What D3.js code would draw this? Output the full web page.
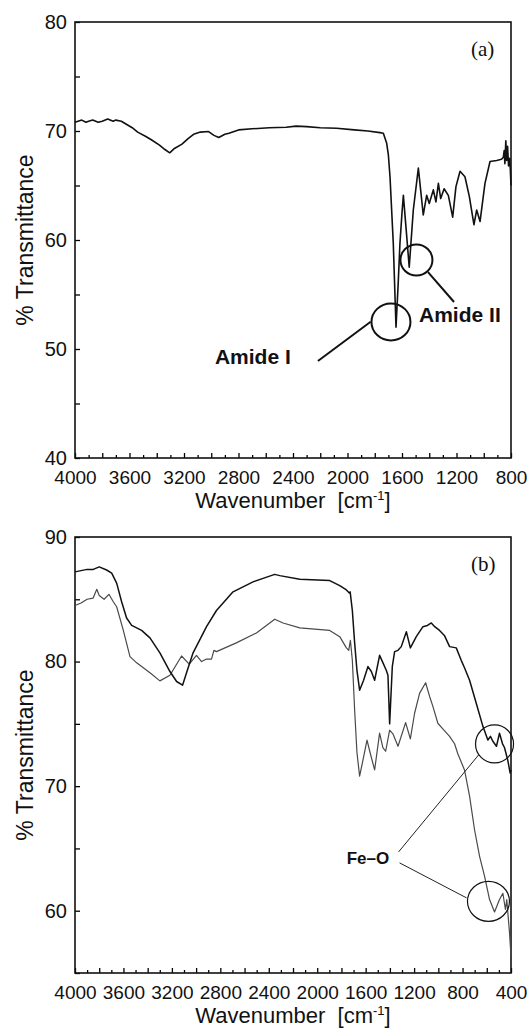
<!DOCTYPE html>
<html>
<head>
<meta charset="utf-8">
<script src="https://cdn.jsdelivr.net/npm/d3@7"></script>
<style>
  body { margin: 0; background: #fff; }
  svg { display: block; font-family: "Liberation Sans", Arial, sans-serif; }
</style>
</head>
<body>
<svg width="530" height="1029"></svg>
<script>
// panel (a): protein spectrum, wavenumber [cm-1] vs % transmittance
const aWave = [4000, 3950, 3920, 3900, 3870, 3830, 3800, 3760, 3720, 3700, 3660, 3620, 3580, 3540, 3480, 3440,
  3380, 3340, 3305, 3270, 3215, 3170, 3130, 3080, 3020, 2980, 2945, 2900, 2870, 2800, 2700, 2575, 2450, 2378,
  2300, 2200, 2080, 1950, 1850, 1762, 1737, 1713, 1700, 1688, 1664, 1644, 1628, 1615, 1600, 1590, 1571, 1547,
  1517, 1480, 1444, 1419, 1400, 1370, 1351, 1333, 1316, 1291, 1260, 1228, 1204, 1174, 1138, 1106, 1072, 1052,
  1027, 991, 954, 905, 870, 856, 850, 845, 838, 832, 825, 818, 810, 805, 800];
const aTrans = [70.8, 71.0, 70.8, 70.9, 71.0, 70.8, 70.9, 71.1, 70.9, 71.0, 70.9, 70.6, 70.3, 69.9, 69.5, 69.2,
  68.7, 68.3, 68.0, 68.4, 68.8, 69.3, 69.7, 69.9, 69.95, 69.6, 69.4, 69.7, 69.8, 70.1, 70.2, 70.3, 70.35, 70.45,
  70.4, 70.3, 70.25, 70.1, 70.0, 69.85, 69.8, 68.9, 67.8, 65.8, 59.7, 52.0, 56.0, 59.7, 62.5, 64.1, 61.2, 57.5,
  62.75, 66.6, 62.3, 64.1, 63.35, 64.6, 63.5, 65.2, 63.8, 64.7, 64.1, 62.1, 64.9, 66.3, 65.8, 64.0, 61.4, 62.75,
  61.7, 65.2, 67.2, 67.3, 67.4, 67.6, 68.2, 67.0, 69.1, 67.3, 68.6, 66.8, 67.5, 66.5, 65.0];

// panel (b): upper (black) and lower (grey) spectra
const bWave1 = [4000, 3950, 3900, 3849, 3800, 3739, 3697, 3656, 3615, 3574, 3532, 3450, 3381, 3299, 3216, 3161,
  3112, 3079, 3025, 2914, 2832, 2695, 2530, 2351, 2309, 2144, 1897, 1814, 1759, 1735, 1728, 1710, 1691, 1672,
  1650, 1617, 1581, 1553, 1526, 1485, 1457, 1430, 1416, 1402, 1380, 1361, 1333, 1306, 1264, 1231, 1182, 1127,
  1090, 1058, 1030, 990, 950, 907, 852, 811, 784, 742, 687, 632, 591, 570, 550, 520, 495, 470, 454, 427, 407, 400];
const bTrans1 = [87.2, 87.3, 87.4, 87.4, 87.6, 87.35, 87.1, 86.3, 84.8, 83.5, 82.9, 82.5, 81.9, 80.7, 79.2, 78.4,
  78.1, 79.1, 80.7, 82.8, 84.1, 85.6, 86.4, 87.0, 86.9, 86.6, 86.5, 86.1, 85.75, 85.5, 85.6, 84.1, 81.5, 79.3,
  77.7, 78.5, 79.6, 79.2, 78.5, 80.5, 79.9, 79.3, 78.9, 75.0, 79.6, 80.8, 80.9, 81.2, 82.4, 81.1, 82.0, 82.8,
  82.9, 83.1, 82.8, 82.5, 82.1, 81.2, 81.1, 80.1, 79.5, 78.5, 76.65, 74.8, 73.7, 74.0, 73.6, 73.2, 74.25, 73.4,
  73.1, 72.1, 71.05, 71.3];

const bWave2 = [4000, 3950, 3900, 3850, 3820, 3800, 3760, 3720, 3684, 3656, 3601, 3546, 3491, 3381, 3299, 3216,
  3120, 3057, 2997, 2955, 2914, 2873, 2853, 2832, 2668, 2502, 2351, 2282, 2144, 1897, 1814, 1759, 1740, 1726,
  1710, 1691, 1672, 1650, 1622, 1589, 1561, 1526, 1485, 1458, 1435, 1402, 1375, 1333, 1270, 1231, 1196, 1155,
  1105, 1072, 1045, 1004, 963, 907, 866, 839, 784, 742, 701, 659, 618, 577, 536, 495, 467, 446, 435, 412, 400];
const bTrans2 = [84.5, 84.7, 85.0, 85.1, 85.8, 85.3, 85.0, 85.4, 84.8, 84.4, 82.5, 80.4, 79.9, 79.1, 78.45, 78.9,
  80.45, 79.8, 80.5, 80.0, 80.2, 80.2, 80.9, 80.8, 81.5, 82.3, 83.4, 83.1, 82.7, 82.5, 82.0, 81.1, 80.9, 81.7,
  80.1, 76.1, 72.7, 70.8, 72.1, 73.7, 72.6, 71.3, 74.25, 73.1, 72.8, 74.5, 74.2, 73.2, 75.1, 73.8, 75.85, 77.45,
  78.3, 77.2, 76.4, 75.05, 74.6, 74.0, 73.4, 72.6, 71.3, 69.2, 66.5, 64.35, 62.75, 60.9, 59.9, 60.9, 61.4, 60.1,
  60.9, 58.2, 56.3];

const left = 75, right = 511;
const svg = d3.select('svg');

function panel(cfg) {
    const x = d3.scaleLinear().domain(cfg.xDomain).range([left, right]);
    const y = d3.scaleLinear().domain(cfg.yDomain).range([cfg.bottom, cfg.top]);
    const g = svg.append('g');

    // x axis, ticks every 100 pointing inward, longer every 200, labels every 400
    const xTicks = d3.range(cfg.xDomain[1], cfg.xDomain[0] + 1, 100);
    const xAxis = g.append('g')
        .attr('transform', `translate(0, ${cfg.bottom})`)
        .call(d3.axisBottom(x)
            .tickValues(xTicks)
            .tickSize(-5)
            .tickPadding(13)
            .tickFormat(d => d % 400 === 0 ? d : ''));
    xAxis.selectAll('.tick line')
        .attr('y2', d => d % 200 === 0 ? -5 : -3)
        .attr('stroke-width', 1.3);
    xAxis.selectAll('text').style('font-size', '19px').attr('fill', '#111');
    xAxis.select('.domain').remove();

    const yTicks = d3.range(cfg.yDomain[0], cfg.yDomain[1] + 1, 5);
    const yAxis = g.append('g')
        .attr('transform', `translate(${left}, 0)`)
        .call(d3.axisLeft(y)
            .tickValues(yTicks)
            .tickSize(-5)
            .tickPadding(8)
            .tickFormat(d => d % 10 === 0 ? d : ''));
    yAxis.selectAll('.tick line').attr('stroke-width', 1.3);
    yAxis.selectAll('text').style('font-size', '20px').attr('fill', '#111');
    yAxis.select('.domain').remove();

    g.append('rect')
        .attr('x', left)
        .attr('y', cfg.top)
        .attr('width', right - left)
        .attr('height', cfg.bottom - cfg.top)
        .attr('fill', 'none')
        .attr('stroke', '#111')
        .attr('stroke-width', 1.6);

    const line = d3.line()
        .x(d => x(d[0]))
        .y(d => y(d[1]));

    cfg.series.forEach(s => {
        g.append('path')
            .datum(d3.zip(s.wave, s.trans))
            .attr('d', line)
            .attr('fill', 'none')
            .attr('stroke', s.color)
            .attr('stroke-width', s.width)
            .attr('stroke-linejoin', 'round');
    });

    // axis titles
    g.append('text')
        .attr('transform', 'rotate(-90)')
        .attr('x', -(cfg.top + cfg.bottom) / 2)
        .attr('y', 33)
        .style('text-anchor', 'middle')
        .style('font-size', '23px')
        .attr('fill', '#111')
        .text('% Transmittance');

    const xt = g.append('text')
        .attr('x', (left + right) / 2)
        .attr('y', cfg.bottom + 50)
        .style('text-anchor', 'middle')
        .style('font-size', '22px')
        .style('white-space', 'pre')
        .attr('fill', '#111');
    xt.append('tspan').text('Wavenumber  [cm');
    xt.append('tspan').attr('dy', -8).style('font-size', '13px').text('-1');
    xt.append('tspan').attr('dy', 8).text(']');

    g.append('text')
        .attr('x', right - 40)
        .attr('y', cfg.top + 34)
        .style('font-family', '"Liberation Serif", "Times New Roman", serif')
        .style('font-size', '21px')
        .attr('fill', '#111')
        .text(cfg.tag);

    return { g, x, y };
}

// panel (a)
const pa = panel({
    top: 22, bottom: 458, xDomain: [4000, 800], yDomain: [40, 80], tag: '(a)',
    series: [{ wave: aWave, trans: aTrans, color: '#111', width: 1.6 }]
});

const amideCircles = [[1681, 52.48, 19.5, 18.5], [1494, 58.17, 16, 15.5]];
pa.g.selectAll('.amide-circle')
    .data(amideCircles)
    .enter()
    .append('ellipse')
    .attr('cx', d => pa.x(d[0]))
    .attr('cy', d => pa.y(d[1]))
    .attr('rx', d => d[2])
    .attr('ry', d => d[3])
    .attr('fill', 'none')
    .attr('stroke', '#111')
    .attr('stroke-width', 2);

const amideLines = [[2217, 48.9, 1830, 52.5], [1409, 57.06, 1218, 54.31]];
pa.g.selectAll('.amide-line')
    .data(amideLines)
    .enter()
    .append('line')
    .attr('x1', d => pa.x(d[0]))
    .attr('y1', d => pa.y(d[1]))
    .attr('x2', d => pa.x(d[2]))
    .attr('y2', d => pa.y(d[3]))
    .attr('stroke', '#111')
    .attr('stroke-width', 2);

const amideLabels = [['Amide I', 2973, 48.6], ['Amide II', 1475, 52.48]];
pa.g.selectAll('.amide-label')
    .data(amideLabels)
    .enter()
    .append('text')
    .attr('x', d => pa.x(d[1]))
    .attr('y', d => pa.y(d[2]))
    .style('font-size', '21px')
    .style('font-weight', 'bold')
    .attr('fill', '#111')
    .text(d => d[0]);

// panel (b)
const pb = panel({
    top: 537, bottom: 973, xDomain: [4000, 400], yDomain: [55, 90], tag: '(b)',
    series: [
        { wave: bWave2, trans: bTrans2, color: '#4a4a4a', width: 1.2 },
        { wave: bWave1, trans: bTrans1, color: '#111', width: 1.5 }
    ]
});

const feCircles = [[536, 73.39, 19, 19], [586, 60.75, 21, 20]];
pb.g.selectAll('.fe-circle')
    .data(feCircles)
    .enter()
    .append('ellipse')
    .attr('cx', d => pb.x(d[0]))
    .attr('cy', d => pb.y(d[1]))
    .attr('rx', d => d[2])
    .attr('ry', d => d[3])
    .attr('fill', 'none')
    .attr('stroke', '#111')
    .attr('stroke-width', 1.2);

const feLines = [[1328, 64.72, 668, 72.5], [1320, 63.84, 767, 61.03]];
pb.g.selectAll('.fe-line')
    .data(feLines)
    .enter()
    .append('line')
    .attr('x1', d => pb.x(d[0]))
    .attr('y1', d => pb.y(d[1]))
    .attr('x2', d => pb.x(d[2]))
    .attr('y2', d => pb.y(d[3]))
    .attr('stroke', '#222')
    .attr('stroke-width', 1);

pb.g.append('text')
    .attr('x', pb.x(1757))
    .attr('y', pb.y(63.76))
    .style('font-size', '17px')
    .style('font-weight', 'bold')
    .attr('fill', '#111')
    .text('Fe–O');
</script>
</body>
</html>
